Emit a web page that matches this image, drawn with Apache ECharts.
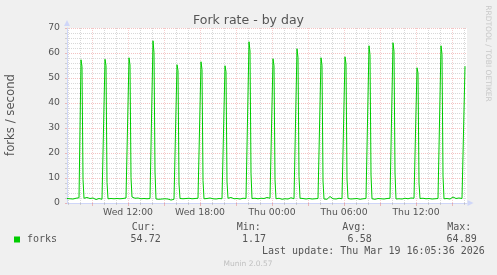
<!DOCTYPE html>
<html>
<head>
<meta charset="utf-8">
<script src="https://cdn.jsdelivr.net/npm/echarts@6/dist/echarts.min.js"></script>
<style>
html,body{margin:0;padding:0;background:#f0f0f0;}
#chart{width:497px;height:275px;}
</style>
</head>
<body>
<div id="chart"></div>
<script>
// ---- data (5-minute samples, Wed 06:55 .. Thu 16:05) ----
const title = 'Fork rate - by day';
const yAxisName = 'forks / second';
const seriesName = 'forks';
const yTicks = [0, 10, 20, 30, 40, 50, 60, 70];
const xTickLabels = ['Wed 12:00', 'Wed 18:00', 'Thu 00:00', 'Thu 06:00', 'Thu 12:00'];
const forks = [
  1.8,1.6,1.9,1.7,1.5,2.0,1.6,1.8,1.4,1.9,1.7,1.6,2.1,1.5,
  57.3,54.6,9.5, 1.9,1.6,1.8,2.2,1.7,1.5,1.8,1.9,1.6,2.0,1.7,1.8,1.4,1.9,1.6,1.8,2.3,1.7,1.5,1.8,1.6,
  57.5,55.0,8.2, 1.7,1.9,1.5,1.8,2.0,1.6,1.7,1.9,1.5,1.8,1.6,2.1,1.7,1.5,1.9,1.8,1.6,1.7,2.0,1.5,1.7,
  58.1,55.2,10.1, 2.4,1.8,1.6,1.9,1.7,1.5,2.0,1.8,1.6,1.7,1.9,1.5,1.8,1.6,2.2,1.7,1.9,1.6,1.8,1.5,1.7,
  64.89,60.1,12.4, 1.6,1.8,1.7,1.5,1.9,1.7,1.6,1.8,2.0,1.7,1.5,1.8,1.6,1.9,1.7,1.17,1.6,1.8,1.5,1.7,1.9,
  55.3,53.0,7.6, 1.8,1.6,1.9,1.7,2.1,1.6,1.8,1.5,1.7,1.9,1.6,1.8,1.7,2.0,1.5,1.8,1.6,1.7,1.9,1.6,1.8,
  56.5,53.4,9.0, 1.7,1.9,1.6,1.8,1.5,1.7,2.0,1.6,1.9,1.7,1.8,1.5,1.6,1.9,1.7,1.8,2.1,1.6,1.7,1.5,1.8,
  54.9,52.5,8.4, 1.9,1.7,1.6,2.2,1.8,1.5,1.7,1.9,1.6,1.8,1.7,2.0,1.6,1.5,1.8,1.9,1.7,1.6,1.8,1.7,1.5,
  64.5,60.8,11.8, 1.8,1.6,1.7,1.9,1.5,1.8,1.7,2.0,1.6,1.9,1.7,1.5,1.8,1.6,1.7,2.2,1.8,1.6,1.9,1.7,1.6,
  57.7,54.9,9.3, 1.7,1.8,1.6,1.9,2.0,1.7,1.5,1.8,1.6,1.7,1.9,1.8,1.6,1.5,1.7,2.1,1.8,1.6,1.7,1.9,1.6,
  61.7,58.2,10.5, 1.9,1.7,1.6,1.8,2.3,1.9,1.6,1.7,1.5,1.8,1.7,1.9,1.6,2.0,1.8,1.7,1.5,1.6,1.8,1.9,1.7,
  58.1,55.1,8.8, 1.6,1.8,1.7,1.5,1.9,1.6,2.6,3.3,2.2,1.7,1.9,1.8,1.6,1.5,1.7,1.9,1.8,1.6,1.7,1.8,1.6,
  58.5,55.6,9.6, 1.8,1.7,1.9,1.6,1.8,1.5,1.7,2.0,1.6,1.8,1.7,1.9,1.5,1.6,1.8,1.7,2.1,1.6,1.8,1.7,1.9,
  62.9,59.3,11.2, 1.7,1.6,1.8,1.5,1.9,1.7,1.8,1.6,2.0,1.7,1.5,1.8,1.6,1.9,1.7,1.8,1.6,1.5,1.9,1.7,1.8,
  64.1,60.7,12.0, 1.6,1.8,1.9,1.7,1.5,1.8,1.6,2.1,1.7,1.9,1.6,1.8,1.7,1.5,1.8,2.0,1.6,1.7,1.9,1.8,1.6,
  54.1,52.0,7.9, 1.8,1.7,1.6,1.9,1.8,1.5,1.7,2.0,1.6,1.8,1.7,1.9,1.6,1.5,1.8,1.7,1.9,1.6,1.8,1.7,1.6,
  62.9,59.5,10.8, 1.7,1.9,1.6,1.8,1.7,2.2,1.6,1.8,1.9,2.4,1.7,1.6,1.8,1.5,1.9,2.0,1.7,1.6,1.8,1.7,1.6,
  54.72
];
const statNames = ['Cur:', 'Min:', 'Avg:', 'Max:'];
const statValues = ['54.72', '1.17', '6.58', '64.89'];
const lastUpdate = 'Last update: Thu Mar 19 16:05:36 2026';
const footer = 'Munin 2.0.57';
const watermark = 'RRDTOOL / TOBI OETIKER';

// ---- time categories: one per 5-minute slot across the plot ----
const startMinute = 6 * 60 + 55;   // Wed 06:55
const slotCount = 401;
const categories = [];
for (let i = 0; i < slotCount; i++) {
  const t = startMinute + 5 * i;
  const day = t < 1440 ? 'Wed' : 'Thu';
  const m = t % 1440;
  const hh = String(Math.floor(m / 60)).padStart(2, '0');
  const mm = String(m % 60).padStart(2, '0');
  categories.push(day + ' ' + hh + ':' + mm);
}
const isHour = v => v.endsWith(':00');
const hourOf = v => parseInt(v.slice(4, 6), 10);
const isMajor = v => isHour(v) && hourOf(v) % 3 === 0;
const isMinor = v => isHour(v) && hourOf(v) % 3 !== 0;

// ---- styles ----
const FONT = 'DejaVu Sans';
const MONO = 'DejaVu Sans Mono';
const TEXT = '#555555';
const AXIS = '#cfd6f8';
const MGRID = 'rgba(222,79,79,0.35)';
const MGRID_V = 'rgba(222,79,79,0.28)';
const GRID = 'rgba(143,143,143,0.35)';

const chart = echarts.init(document.getElementById('chart'), null, {renderer: 'canvas'});

const statGraphics = [];
const labelX = [131.7, 236.7, 342.3, 447.3];
const valueRight = [160.7, 266, 371.7, 476.7];
statNames.forEach((n, i) => {
  statGraphics.push({type: 'text', x: labelX[i], y: 227.7,
    style: {text: n, font: '10px "' + MONO + '"', fill: TEXT, align: 'left', verticalAlign: 'middle'}});
  statGraphics.push({type: 'text', x: valueRight[i], y: 239.7,
    style: {text: statValues[i], font: '10px "' + MONO + '"', fill: TEXT, align: 'right', verticalAlign: 'middle'}});
});

chart.setOption({
  animation: false,
  backgroundColor: '#f0f0f0',
  grid: {left: 67, right: 30, top: 28, bottom: 72, show: true, backgroundColor: '#ffffff', borderWidth: 0},
  legend: {
    data: [seriesName], left: 14, top: 233.5, padding: 0,
    icon: 'rect', itemWidth: 6, itemHeight: 6,
    textStyle: {fontFamily: MONO, fontSize: 10, color: TEXT, lineHeight: 12, padding: [0, 0, 0, 2]}
  },
  xAxis: [{
    type: 'category', data: categories, boundaryGap: false, position: 'bottom',
    axisLine: {show: true, lineStyle: {color: AXIS, width: 1}, symbol: ['none', 'triangle'], symbolSize: [6, 6], symbolOffset: [0, 3.5]},
    axisTick: {show: true, interval: (i, v) => isMinor(v), length: 2, lineStyle: {color: GRID}},
    axisLabel: {show: false},
    splitLine: {show: true, interval: (i, v) => isMinor(v), lineStyle: {color: GRID, type: [1, 1], width: 1}}
  }, {
    type: 'category', data: categories, boundaryGap: false, position: 'bottom',
    axisLine: {show: false},
    axisTick: {show: true, interval: (i, v) => isMajor(v), length: 3, lineStyle: {color: MGRID}},
    axisLabel: {show: true, interval: (i, v) => xTickLabels.includes(v), margin: 5,
      fontFamily: FONT, fontSize: 9.3, color: TEXT},
    splitLine: {show: true, interval: (i, v) => isMajor(v), lineStyle: {color: MGRID_V, type: [1, 1], width: 1}}
  }],
  yAxis: {
    type: 'value', min: yTicks[0], max: yTicks[yTicks.length - 1], interval: 10,
    axisLine: {show: true, lineStyle: {color: AXIS, width: 1}, symbol: ['none', 'triangle'], symbolSize: [6, 6], symbolOffset: [0, 5]},
    axisTick: {show: true, length: 2, lineStyle: {color: MGRID}},
    minorTick: {show: true, splitNumber: 5, length: 2, lineStyle: {color: GRID}},
    axisLabel: {margin: 7, fontFamily: FONT, fontSize: 9.3, color: TEXT},
    splitLine: {show: true, lineStyle: {color: MGRID, type: [1, 1], width: 1}},
    minorSplitLine: {show: true, lineStyle: {color: GRID, type: [1, 1], width: 1}}
  },
  series: [{
    name: seriesName, type: 'line', xAxisIndex: 0, data: forks,
    showSymbol: false, symbol: 'none', sampling: 'none',
    lineStyle: {color: '#00cc00', width: 1}, itemStyle: {color: '#00cc00'}, z: 5
  }],
  graphic: [
    {type: 'text', x: 248.5, y: 20.3,
      style: {text: title, font: '12.5px "' + FONT + '"', fill: TEXT, align: 'center', verticalAlign: 'middle'}},
    {type: 'text', x: 10.5, y: 115, rotation: Math.PI / 2,
      style: {text: yAxisName, font: '11.7px "' + FONT + '"', fill: TEXT, align: 'center', verticalAlign: 'middle'}},
    {type: 'text', x: 487.5, y: 53.5, rotation: -Math.PI / 2,
      style: {text: watermark, font: '7.5px "' + FONT + '"', fill: '#c8c8c8', align: 'center', verticalAlign: 'middle'}},
    ...statGraphics,
    {type: 'text', x: 262, y: 251.2,
      style: {text: lastUpdate, font: '10px "' + MONO + '"', fill: TEXT, align: 'left', verticalAlign: 'middle'}},
    {type: 'text', x: 248, y: 264,
      style: {text: footer, font: '7.5px "' + FONT + '"', fill: '#c0c0c0', align: 'center', verticalAlign: 'middle'}}
  ]
});
</script>
</body>
</html>
